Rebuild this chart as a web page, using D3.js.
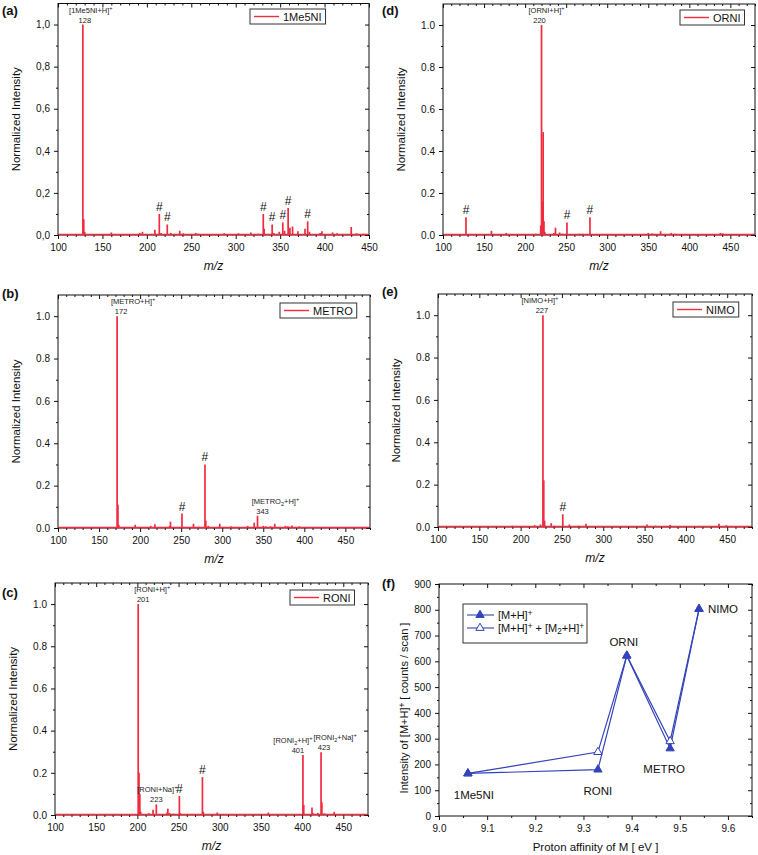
<!DOCTYPE html>
<html>
<head>
<meta charset="utf-8">
<script src="https://cdn.jsdelivr.net/npm/d3@7"></script>
<style>
  body { margin: 0; background: #fff; }
  svg { display: block; }
</style>
</head>
<body>
<div id="chart"></div>
<script>
// ---- spectra: [m/z, normalized intensity] ----
const peaks1Me5NI = [[128,1.0],[129,0.075],[130,0.015],[160,0.012],[192,0.01],[195,0.015],[209,0.025],[214,0.10],[216,0.01],[223,0.05],[227,0.01],[237,0.02],[241,0.008],[255,0.01],[258,0.006],[270,0.005],[287,0.008],[303,0.008],[317,0.012],[325,0.006],[331,0.10],[332,0.03],[341,0.05],[343,0.01],[349,0.015],[353,0.06],[355,0.02],[359,0.128],[361,0.035],[364,0.04],[370,0.018],[378,0.03],[381,0.065],[383,0.015],[395,0.01],[397,0.018],[409,0.012],[414,0.008],[430,0.038],[436,0.008],[444,0.006]];
const peaksORNI = [[128,0.085],[159,0.02],[177,0.01],[207,0.005],[213,0.006],[219,0.045],[220,1.0],[221,0.16],[222,0.49],[223,0.065],[224,0.015],[235,0.01],[237,0.035],[242,0.012],[245,0.006],[251,0.06],[266,0.006],[270,0.006],[279,0.085],[298,0.005],[350,0.01],[355,0.008],[365,0.018],[378,0.01],[382,0.006],[438,0.01],[441,0.007],[460,0.005]];
const peaksMETRO = [[172,1.0],[173,0.11],[174,0.015],[194,0.015],[213,0.01],[218,0.018],[236,0.01],[237,0.03],[251,0.068],[265,0.02],[272,0.006],[279,0.30],[280,0.035],[283,0.01],[297,0.02],[311,0.008],[331,0.01],[339,0.025],[343,0.058],[350,0.01],[353,0.008],[359,0.008],[364,0.02],[377,0.01],[380,0.008],[385,0.012],[394,0.008],[410,0.004]];
const peaksNIMO = [[115,0.004],[190,0.006],[210,0.005],[217,0.008],[224,0.012],[227,1.0],[228,0.22],[229,0.03],[237,0.018],[241,0.006],[251,0.06],[259,0.012],[270,0.006],[279,0.015],[290,0.004],[353,0.012],[363,0.006],[381,0.01],[440,0.015],[449,0.008]];
const peaksRONI = [[140,0.005],[201,1.0],[202,0.2],[203,0.10],[204,0.015],[214,0.008],[219,0.025],[223,0.05],[236,0.012],[237,0.03],[239,0.01],[244,0.006],[251,0.09],[252,0.01],[266,0.005],[276,0.005],[279,0.18],[280,0.015],[297,0.012],[311,0.005],[322,0.005],[339,0.005],[359,0.012],[401,0.285],[402,0.048],[412,0.035],[413,0.01],[419,0.01],[423,0.298],[424,0.06],[427,0.008],[439,0.015]];

// peaks marked with "#"
const hash1Me5NI = [214, 223, 331, 341, 353, 359, 381];
const hashORNI = [128, 251, 279];
const hashMETRO = [251, 279];
const hashNIMO = [251];
const hashRONI = [251, 279];

// labelled ions: [M_n + add]+
const ions1Me5NI = [{mz: 128, m: "1Me5NI", n: "", add: "H"}];
const ionsORNI = [{mz: 220, m: "ORNI", n: "", add: "H"}];
const ionsMETRO = [{mz: 172, m: "METRO", n: "", add: "H"}, {mz: 343, m: "METRO", n: "2", add: "H"}];
const ionsNIMO = [{mz: 227, m: "NIMO", n: "", add: "H"}];
const ionsRONI = [{mz: 201, m: "RONI", n: "", add: "H"}, {mz: 223, m: "RONI", n: "", add: "Na"},
                  {mz: 401, m: "RONI", n: "2", add: "H"}, {mz: 423, m: "RONI", n: "2", add: "Na"}];

const mzTicks = [100, 150, 200, 250, 300, 350, 400, 450];
const intTicks = [0, 0.2, 0.4, 0.6, 0.8, 1.0];

// ---- panel (f) ----
const paNames = ["1Me5NI", "RONI", "ORNI", "METRO", "NIMO"];
const paValues = [9.06, 9.33, 9.39, 9.48, 9.54];
const intMH = [165, 180, 622, 262, 803];
const intMHM2 = [165, 248, 622, 290, 803];
const paTicks = [9.0, 9.1, 9.2, 9.3, 9.4, 9.5, 9.6];
const countTicks = [0, 100, 200, 300, 400, 500, 600, 700, 800, 900];

const W = 758, H = 855;
const RED = "#f22a3e", BLUE = "#3343b9";
const FONT = "'Liberation Sans', Arial, sans-serif";

const svg = d3.select("#chart").append("svg")
  .attr("width", W).attr("height", H)
  .style("font-family", FONT);

function sup(t, s) { t.append("tspan").attr("dy", -3).attr("font-size", "0.75em").text(s); }

// writes "[M_n+add]+" into a text element
function ionText(t, ion) {
  t.append("tspan").text("[" + ion.m);
  if (ion.n) t.append("tspan").attr("dy", 2).attr("font-size", "0.75em").text(ion.n);
  t.append("tspan").attr("dy", ion.n ? -2 : 0).text("+" + ion.add + "]");
  sup(t, "+");
}

function frame(g, x, y, xMajor, xMinor, yMajor, yMinor, fmt) {
  const [x0, x1] = x.range();
  const [yb, yt] = y.range();
  const add = (tr, axis) => g.append("g").attr("transform", tr).call(axis);
  add(`translate(0,${yb})`, d3.axisBottom(x).tickValues(xMinor).tickSize(2).tickFormat(""));
  add(`translate(0,${yb})`, d3.axisBottom(x).tickValues(xMajor).tickSize(4).tickPadding(5).tickFormat(fmt.x));
  add(`translate(0,${yt})`, d3.axisTop(x).tickValues(xMinor).tickSize(-2).tickFormat(""));
  add(`translate(0,${yt})`, d3.axisTop(x).tickValues(xMajor).tickSize(-4).tickFormat(""));
  add(`translate(${x0},0)`, d3.axisLeft(y).tickValues(yMinor).tickSize(2).tickFormat(""));
  add(`translate(${x0},0)`, d3.axisLeft(y).tickValues(yMajor).tickSize(4).tickPadding(4).tickFormat(fmt.y));
  add(`translate(${x1},0)`, d3.axisRight(y).tickValues(yMinor).tickSize(-2).tickFormat(""));
  add(`translate(${x1},0)`, d3.axisRight(y).tickValues(yMajor).tickSize(-4).tickFormat(""));
  g.selectAll(".domain").remove();
  g.selectAll(".tick line").attr("stroke", "#111");
  g.selectAll(".tick text").attr("font-size", 10).attr("fill", "#111").style("font-family", FONT);
  g.append("rect").attr("x", x0).attr("y", yt).attr("width", x1 - x0).attr("height", yb - yt)
    .attr("fill", "none").attr("stroke", "#111").attr("stroke-width", 1);
}

function range(a, b, step) {
  const out = [];
  for (let v = a; v <= b + 1e-9; v += step) out.push(+v.toFixed(4));
  return out;
}

function drawSpectrum(p) {
  const g = svg.append("g");
  const x = d3.scaleLinear().domain([100, p.xMax]).range([p.x0, p.x1]);
  const y = d3.scaleLinear().domain([0, 1.1]).range([p.yb, p.yt]);
  const xMinor = range(100, p.xMax, 10).filter(v => v % 50 !== 0);
  const yMinor = [0.1, 0.3, 0.5, 0.7, 0.9];
  const dec = d3.format(".1f");
  frame(g, x, y, mzTicks.filter(v => v <= p.xMax), xMinor, intTicks, yMinor,
        {x: d3.format("d"), y: p.comma ? d => dec(d).replace(".", ",") : dec});

  // baseline + sticks
  g.append("line").attr("x1", p.x0 + 1).attr("x2", p.x1 - 1)
    .attr("y1", y(0) - 0.5).attr("y2", y(0) - 0.5).attr("stroke", RED).attr("stroke-width", 1.3);
  g.append("g").selectAll("line").data(p.peaks).join("line")
    .attr("x1", d => x(d[0])).attr("x2", d => x(d[0]))
    .attr("y1", y(0)).attr("y2", d => y(d[1]))
    .attr("stroke", RED).attr("stroke-width", 1.7);

  // # markers
  const val = mz => p.peaks.find(d => d[0] === mz)[1];
  g.append("g").selectAll("text").data(p.hash).join("text")
    .attr("x", d => x(d)).attr("y", d => y(val(d)) - 3)
    .attr("text-anchor", "middle").attr("font-size", 12).attr("fill", "#111")
    .text("#");

  // ion annotations
  p.ions.forEach(ion => {
    const px = x(ion.mz), py = y(val(ion.mz));
    const off = p.ionOffset[ion.mz] || [0, 2];
    const t = g.append("text").attr("x", px + off[0]).attr("y", py - 12)
      .attr("text-anchor", "middle").attr("font-size", 7.5).attr("fill", "#222");
    ionText(t, ion);
    g.append("text").attr("x", px + off[1]).attr("y", py - 2)
      .attr("text-anchor", "middle").attr("font-size", 7.5).attr("fill", "#222")
      .text(ion.mz);
  });

  // legend
  const lg = g.append("g").attr("transform", `translate(${p.legend[0]},${p.legend[1]})`);
  const box = lg.append("rect").attr("height", 15).attr("fill", "#fff").attr("stroke", "#333");
  lg.append("line").attr("x1", 4).attr("x2", 29).attr("y1", 7.5).attr("y2", 7.5)
    .attr("stroke", RED).attr("stroke-width", 1.4);
  const lt = lg.append("text").attr("x", 33).attr("y", 11.5).attr("font-size", 11).attr("fill", "#111").text(p.name);
  box.attr("width", 33 + lt.node().getComputedTextLength() + 4);

  // titles
  g.append("text").attr("x", p.lx).attr("y", p.ly).attr("font-size", 13).attr("font-weight", "bold")
    .attr("fill", "#111").text(p.tag);
  g.append("text").attr("transform", `translate(${p.x0 - 38},${(p.yt + p.yb) / 2}) rotate(-90)`)
    .attr("text-anchor", "middle").attr("font-size", 11.5).attr("fill", "#111").text("Normalized Intensity");
  g.append("text").attr("x", (p.x0 + p.x1) / 2).attr("y", p.yb + 35)
    .attr("text-anchor", "middle").attr("font-size", 12).attr("font-style", "italic").attr("fill", "#111").text("m/z");
}

drawSpectrum({tag: "(a)", lx: 2, ly: 15, name: "1Me5NI", peaks: peaks1Me5NI, hash: hash1Me5NI, ions: ions1Me5NI,
  xMax: 450, x0: 58, x1: 369, yt: 3.5, yb: 235, comma: true, legend: [250, 9], ionOffset: {128: [8, 2]}});
drawSpectrum({tag: "(d)", lx: 382, ly: 15, name: "ORNI", peaks: peaksORNI, hash: hashORNI, ions: ionsORNI,
  xMax: 480, x0: 443, x1: 755, yt: 4, yb: 235, legend: [680, 10], ionOffset: {220: [5, -2]}});
drawSpectrum({tag: "(b)", lx: 2, ly: 298, name: "METRO", peaks: peaksMETRO, hash: hashMETRO, ions: ionsMETRO,
  xMax: 480, x0: 58, x1: 370, yt: 295, yb: 528, legend: [280, 303], ionOffset: {172: [16, 4], 343: [18, 5]}});
drawSpectrum({tag: "(e)", lx: 382, ly: 296, name: "NIMO", peaks: peaksNIMO, hash: hashNIMO, ions: ionsNIMO,
  xMax: 480, x0: 438, x1: 752, yt: 294, yb: 527, legend: [673, 302], ionOffset: {227: [-3, -1]}});
drawSpectrum({tag: "(c)", lx: 2, ly: 597, name: "RONI", peaks: peaksRONI, hash: hashRONI, ions: ionsRONI,
  xMax: 480, x0: 55, x1: 368, yt: 583, yb: 815, legend: [290, 590],
  ionOffset: {201: [14, 5], 223: [1, 0], 401: [-10, -5], 423: [14, 3]}});

// ---- panel (f): intensity vs proton affinity ----
(function () {
  const g = svg.append("g");
  const x0 = 439, x1 = 752, yt = 584, yb = 816;
  const x = d3.scaleLinear().domain([9.0, 9.65]).range([x0, x1]);
  const y = d3.scaleLinear().domain([0, 900]).range([yb, yt]);
  frame(g, x, y, paTicks, range(9.05, 9.65, 0.1), countTicks, range(50, 850, 100),
        {x: d3.format(".1f"), y: d3.format("d")});

  const line = d3.line().x((d, i) => x(paValues[i])).y(d => y(d));
  g.append("path").attr("d", line(intMHM2)).attr("fill", "none").attr("stroke", BLUE).attr("stroke-width", 1.2);
  g.append("path").attr("d", line(intMH)).attr("fill", "none").attr("stroke", BLUE).attr("stroke-width", 1.2);

  const tri = d3.symbol().type(d3.symbolTriangle).size(30);
  g.append("g").selectAll("path").data(intMHM2).join("path")
    .attr("d", tri).attr("transform", (d, i) => `translate(${x(paValues[i])},${y(d)})`)
    .attr("fill", "#fff").attr("stroke", BLUE).attr("stroke-width", 1);
  g.append("g").selectAll("path").data(intMH).join("path")
    .attr("d", tri).attr("transform", (d, i) => `translate(${x(paValues[i])},${y(d)})`)
    .attr("fill", BLUE).attr("stroke", BLUE).attr("stroke-width", 1);

  // point labels (offsets are layout only)
  const labelOff = {"1Me5NI": [6, 26], "RONI": [0, 25], "ORNI": [-3, -10], "METRO": [-6, 25], "NIMO": [24, 4]};
  g.append("g").selectAll("text").data(paNames).join("text")
    .attr("x", (d, i) => x(paValues[i]) + labelOff[d][0])
    .attr("y", (d, i) => y(intMH[i]) + labelOff[d][1])
    .attr("text-anchor", "middle").attr("font-size", 11.5).attr("fill", "#111").text(d => d);

  // legend
  const lg = g.append("g").attr("transform", "translate(463,604)");
  lg.append("rect").attr("width", 124).attr("height", 39).attr("fill", "#fff").attr("stroke", "#333");
  [[11, BLUE], [24, "#fff"]].forEach(([ry, fill], k) => {
    lg.append("line").attr("x1", 4).attr("x2", 31).attr("y1", ry).attr("y2", ry).attr("stroke", BLUE).attr("stroke-width", 1.1);
    lg.append("path").attr("d", tri.size(30)).attr("transform", `translate(17,${ry})`)
      .attr("fill", fill).attr("stroke", BLUE).attr("stroke-width", 1);
    const t = lg.append("text").attr("x", 35).attr("y", ry + 4).attr("font-size", 11).attr("fill", "#111");
    t.append("tspan").text("[M+H]");
    sup(t, "+");
    if (k === 1) {
      t.append("tspan").attr("dy", 3).text(" + [M");
      t.append("tspan").attr("dy", 2).attr("font-size", "0.75em").text("2");
      t.append("tspan").attr("dy", -2).text("+H]");
      sup(t, "+");
    }
  });

  g.append("text").attr("x", 382).attr("y", 588).attr("font-size", 13).attr("font-weight", "bold")
    .attr("fill", "#111").text("(f)");
  const yl = g.append("text").attr("transform", `translate(408,${(yt + yb) / 2 + 8}) rotate(-90)`)
    .attr("text-anchor", "middle").attr("font-size", 11).attr("fill", "#111");
  yl.append("tspan").text("Intensity of [M+H]");
  sup(yl, "+");
  yl.append("tspan").attr("dy", 3).text(" [ counts / scan ]");
  g.append("text").attr("x", (x0 + x1) / 2).attr("y", 851).attr("text-anchor", "middle")
    .attr("font-size", 11.5).attr("fill", "#111").text("Proton affinity of M [ eV ]");
})();
</script>
</body>
</html>
